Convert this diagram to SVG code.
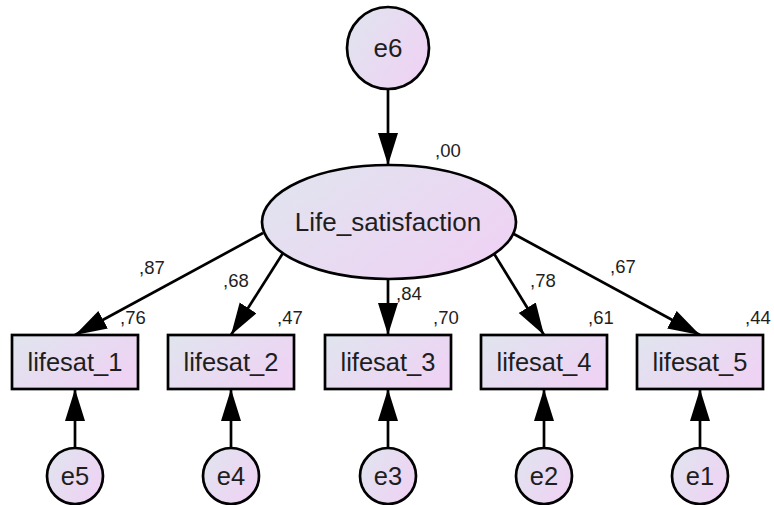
<svg xmlns="http://www.w3.org/2000/svg" width="774" height="505" viewBox="0 0 774 505">
  <defs>
    <linearGradient id="fillGrad" x1="0" y1="0" x2="1" y2="0.6">
      <stop offset="0" stop-color="#e0e5ee"/>
      <stop offset="1" stop-color="#eed3f4"/>
    </linearGradient>
    <marker id="arrow" markerUnits="userSpaceOnUse" markerWidth="34" markerHeight="22" refX="32" refY="10" orient="auto" viewBox="0 0 34 22">
      <path d="M0,0 L32,10 L0,20 z" fill="#000"/>
    </marker>
    <style>
      .shape { fill: url(#fillGrad); stroke: #000; stroke-width: 2.7; }
      .path { stroke: #000; stroke-width: 2.7; fill: none; marker-end: url(#arrow); }
      .name { font-family: "Liberation Sans", Arial, sans-serif; font-size: 25.5px; fill: #1e1e1e; text-anchor: middle; }
      .big { font-size: 26px; }
      .est { font-family: "Liberation Sans", Arial, sans-serif; font-size: 18.5px; fill: #1e1e1e; }
    </style>
  </defs>

  <rect width="774" height="505" fill="#fff"/>

  <!-- regression and error paths -->
  <g id="connectors">
    <line class="path" x1="388" y1="89" x2="388" y2="165"/>
    <line class="path" x1="263" y1="233" x2="75" y2="335"/>
    <line class="path" x1="283" y1="253" x2="231" y2="335"/>
    <line class="path" x1="388" y1="279" x2="388" y2="335"/>
    <line class="path" x1="493" y1="252" x2="544" y2="335"/>
    <line class="path" x1="512" y1="233" x2="700" y2="335"/>
    <line class="path" x1="75" y1="448" x2="75" y2="389"/>
    <line class="path" x1="231" y1="448" x2="231" y2="389"/>
    <line class="path" x1="388" y1="448" x2="388" y2="389"/>
    <line class="path" x1="544" y1="448" x2="544" y2="389"/>
    <line class="path" x1="700" y1="448" x2="700" y2="389"/>
  </g>

  <!-- latent variable and its disturbance -->
  <g id="e6">
    <circle class="shape" cx="388" cy="48" r="41"/>
    <text class="name big" x="388" y="57">e6</text>
  </g>
  <g id="life_satisfaction">
    <ellipse class="shape" cx="389" cy="222" rx="127" ry="57"/>
    <text class="name big" x="388" y="231">Life_satisfaction</text>
  </g>

  <!-- observed indicators -->
  <g id="lifesat_1">
    <rect class="shape" x="12" y="335" width="126" height="54"/>
    <text class="name" x="75" y="371">lifesat_1</text>
  </g>
  <g id="lifesat_2">
    <rect class="shape" x="168" y="335" width="126" height="54"/>
    <text class="name" x="231" y="371">lifesat_2</text>
  </g>
  <g id="lifesat_3">
    <rect class="shape" x="325" y="335" width="126" height="54"/>
    <text class="name" x="388" y="371">lifesat_3</text>
  </g>
  <g id="lifesat_4">
    <rect class="shape" x="481" y="335" width="126" height="54"/>
    <text class="name" x="544" y="371">lifesat_4</text>
  </g>
  <g id="lifesat_5">
    <rect class="shape" x="637" y="335" width="126" height="54"/>
    <text class="name" x="700" y="371">lifesat_5</text>
  </g>

  <!-- measurement errors -->
  <g id="e5">
    <circle class="shape" cx="75" cy="476" r="28"/>
    <text class="name" x="75" y="485">e5</text>
  </g>
  <g id="e4">
    <circle class="shape" cx="231" cy="476" r="28"/>
    <text class="name" x="231" y="485">e4</text>
  </g>
  <g id="e3">
    <circle class="shape" cx="388" cy="476" r="28"/>
    <text class="name" x="388" y="485">e3</text>
  </g>
  <g id="e2">
    <circle class="shape" cx="544" cy="476" r="28"/>
    <text class="name" x="544" y="485">e2</text>
  </g>
  <g id="e1">
    <circle class="shape" cx="700" cy="476" r="28"/>
    <text class="name" x="700" y="485">e1</text>
  </g>

  <!-- standardized estimates -->
  <g id="estimates">
    <text class="est" x="435" y="157">,00</text>
    <text class="est" x="139" y="274">,87</text>
    <text class="est" x="223" y="287">,68</text>
    <text class="est" x="396" y="300">,84</text>
    <text class="est" x="530" y="287">,78</text>
    <text class="est" x="610" y="273">,67</text>
    <text class="est" x="120" y="324">,76</text>
    <text class="est" x="277" y="324">,47</text>
    <text class="est" x="433" y="324">,70</text>
    <text class="est" x="588" y="324">,61</text>
    <text class="est" x="745" y="324">,44</text>
  </g>
</svg>
